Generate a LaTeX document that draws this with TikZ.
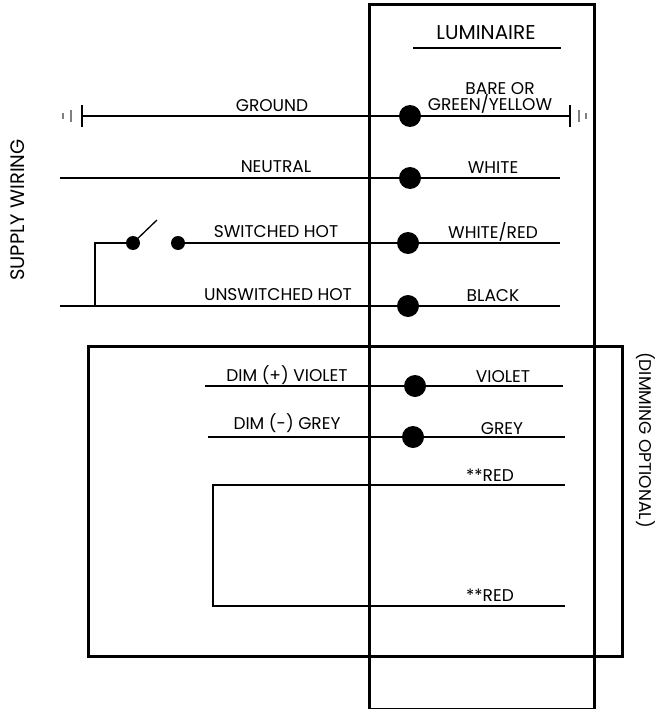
\documentclass[tikz,border=0pt]{standalone}
\usepackage{fontspec}
\setmainfont{Poppins}
\begin{document}
\begin{tikzpicture}[x=1pt,y=-1pt,
  wire/.style={line width=2.2pt},
  boxline/.style={line width=2.8pt},
  gnd/.style={line width=1.4pt},
  dotn/.style={circle,fill=black,inner sep=0pt,minimum size=22pt},
  sdot/.style={circle,fill=black,inner sep=0pt,minimum size=14pt},
  lbl/.style={font=\fontsize{17}{17}\selectfont,inner sep=0pt,anchor=base}]
\useasboundingbox (0,0) rectangle (667,709);
% boxes
\node[boxline,draw,inner sep=0pt,minimum width=225pt,minimum height=704pt,anchor=north west] (lum) at (368,3.5) {};
\node[boxline,draw,inner sep=0pt,minimum width=534pt,minimum height=310pt,anchor=north west] (dim) at (87,345) {};
% luminaire title
\node[lbl,font=\fontsize{20}{20}\selectfont] (title) at (486,40) {LUMINAIRE};
\coordinate (ulA) at (413,48);
\coordinate (ulB) at (561,48);
\draw[line width=1.2pt] (ulA) -- (ulB);
% ground
\coordinate (gL) at (82,116);
\coordinate (gR) at (570,116);
\node[dotn] (d1) at (410,116) {};
\draw[wire] (gL) -- (d1) -- (gR);
\draw[gnd] ([yshift=-11pt]gL) -- ([yshift=11pt]gL);
\coordinate (gL2) at (71,116);
\coordinate (gL3) at (63,116);
\draw[gnd,gray] ([yshift=-6pt]gL2) -- ([yshift=6pt]gL2);
\draw[gnd,gray] ([yshift=-3pt]gL3) -- ([yshift=3pt]gL3);
\draw[gnd] ([yshift=-11pt]gR) -- ([yshift=11pt]gR);
\coordinate (gR2) at (579,116);
\coordinate (gR3) at (586,116);
\draw[gnd,gray] ([yshift=-6pt]gR2) -- ([yshift=6pt]gR2);
\draw[gnd,gray] ([yshift=-3pt]gR3) -- ([yshift=3pt]gR3);
\node[lbl] (lground) at (272,111) {GROUND};
\node[lbl] (lbare) at (500,94) {BARE OR};
\node[lbl] (lgy) at (490,110) {GREEN/YELLOW};
% neutral
\coordinate (nL) at (60,178);
\coordinate (nR) at (560,178);
\node[dotn] (d2) at (410,178) {};
\draw[wire] (nL) -- (d2) -- (nR);
\node[lbl] (lneutral) at (276,172) {NEUTRAL};
\node[lbl] (lwhite) at (493,173) {WHITE};
% switched hot
\node[sdot] (sw1) at (133,243) {};
\node[sdot] (sw2) at (178,243) {};
\coordinate (blade) at (157,220);
\draw[line width=1.3pt] (sw1.center) -- (blade);
\coordinate (shR) at (560,243);
\node[dotn] (d3) at (408,243) {};
\draw[wire] (sw2) -- (d3) -- (shR);
\coordinate (jT) at (95,243);
\coordinate (jB) at (95,306);
\draw[wire] (sw1) -- (jT) -- (jB);
\node[lbl] (lsw) at (276,237) {SWITCHED HOT};
\node[lbl] (lwr) at (493,238) {WHITE/RED};
% unswitched hot
\coordinate (uL) at (60,306);
\coordinate (uR) at (560,306);
\node[dotn] (d4) at (408,306) {};
\draw[wire] (uL) -- (d4) -- (uR);
\node[lbl] (lush) at (278,300) {UNSWITCHED HOT};
\node[lbl] (lblack) at (493,301) {BLACK};
% violet
\coordinate (vL) at (205,386);
\coordinate (vR) at (563,386);
\node[dotn] (d5) at (415,386) {};
\draw[wire] (vL) -- (d5) -- (vR);
\node[lbl] (ldimp) at (287,381) {DIM (+) VIOLET};
\node[lbl] (lviolet) at (503,382) {VIOLET};
% grey
\coordinate (eL) at (208,437);
\coordinate (eR) at (565,437);
\node[dotn] (d6) at (413,437) {};
\draw[wire] (eL) -- (d6) -- (eR);
\node[lbl] (ldimm) at (287,429) {DIM (-) GREY};
\node[lbl] (lgrey) at (502,434) {GREY};
% red loop
\coordinate (r1R) at (565,485);
\coordinate (r1L) at (213,485);
\coordinate (r2L) at (213,606);
\coordinate (r2R) at (565,606);
\draw[line width=1.4pt] (r1R) -- (r1L) -- (r2L) -- (r2R);
\node[lbl] (lred1) at (490,481) {**RED};
\node[lbl] (lred2) at (490,601) {**RED};
% side labels
\node[font=\fontsize{19.5}{20}\selectfont,rotate=90,inner sep=0pt] (supply) at (18,210) {SUPPLY WIRING};
\node[font=\fontsize{17}{17}\selectfont,rotate=-90,inner sep=0pt] (dimopt) at (646,440) {(DIMMING OPTIONAL)};
\end{tikzpicture}
\end{document}
